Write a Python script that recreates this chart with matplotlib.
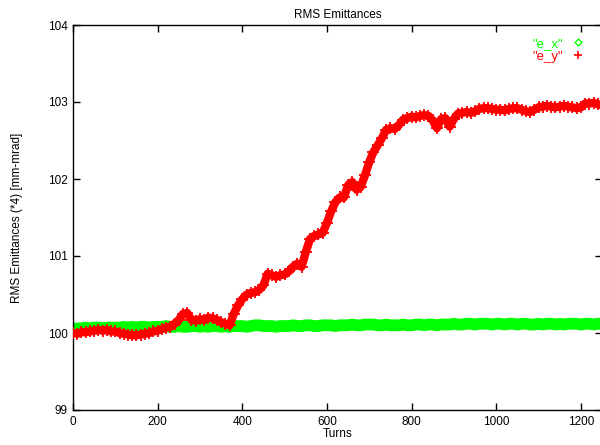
import matplotlib
matplotlib.use("Agg")
import matplotlib.pyplot as plt
from matplotlib.lines import Line2D
import numpy as np

plt.rcParams['font.family'] = ['Liberation Sans', 'DejaVu Sans']

title = "RMS Emittances"
xlabel = "Turns"
ylabel = "RMS Emittances (*4) [mm-mrad]"
labels = ['"e_x"', '"e_y"']
xticks = [0, 200, 400, 600, 800, 1000, 1200]
yticks = [99, 100, 101, 102, 103, 104]

turns = list(range(0, 1251, 10))

e_x = [100.05, 100.06, 100.06, 100.07, 100.06, 100.07, 100.07, 100.06, 100.07, 100.07,
       100.07, 100.07, 100.08, 100.07, 100.08, 100.07, 100.08, 100.08, 100.07, 100.08,
       100.08, 100.08, 100.09, 100.08, 100.08, 100.09, 100.08, 100.08, 100.09, 100.09,
       100.08, 100.09, 100.08, 100.09, 100.09, 100.08, 100.09, 100.08, 100.09, 100.09,
       100.09, 100.08, 100.09, 100.10, 100.10, 100.09, 100.09, 100.09, 100.08, 100.09,
       100.09, 100.09, 100.10, 100.09, 100.09, 100.10, 100.10, 100.09, 100.09, 100.10,
       100.10, 100.10, 100.09, 100.10, 100.10, 100.10, 100.11, 100.10, 100.10, 100.11,
       100.11, 100.11, 100.10, 100.10, 100.11, 100.10, 100.10, 100.10, 100.11, 100.10,
       100.10, 100.11, 100.11, 100.10, 100.11, 100.11, 100.10, 100.11, 100.11, 100.11,
       100.12, 100.11, 100.11, 100.12, 100.12, 100.11, 100.12, 100.12, 100.12, 100.11,
       100.12, 100.12, 100.11, 100.12, 100.12, 100.11, 100.12, 100.12, 100.11, 100.11,
       100.12, 100.11, 100.12, 100.12, 100.11, 100.12, 100.11, 100.12, 100.12, 100.12,
       100.11, 100.12, 100.12, 100.11, 100.12, 100.12]

e_y = [100.00, 99.99, 100.01, 100.01, 100.02, 100.03, 100.04, 100.03, 100.04, 100.02,
       100.02, 100.00, 99.99, 99.98, 99.97, 99.97, 99.98, 99.99, 100.00, 100.02,
       100.03, 100.05, 100.07, 100.08, 100.12, 100.17, 100.25, 100.26, 100.17, 100.16,
       100.18, 100.17, 100.20, 100.19, 100.17, 100.14, 100.12, 100.10, 100.25, 100.36,
       100.44, 100.50, 100.52, 100.53, 100.56, 100.62, 100.77, 100.75, 100.73, 100.75,
       100.76, 100.80, 100.86, 100.90, 100.86, 101.05, 101.22, 101.26, 101.28, 101.30,
       101.43, 101.58, 101.70, 101.76, 101.76, 101.92, 101.96, 101.86, 101.90, 102.05,
       102.22, 102.35, 102.44, 102.53, 102.64, 102.66, 102.65, 102.70, 102.77, 102.79,
       102.81, 102.80, 102.82, 102.83, 102.82, 102.76, 102.66, 102.78, 102.79, 102.68,
       102.78, 102.85, 102.86, 102.87, 102.86, 102.88, 102.91, 102.92, 102.92, 102.91,
       102.90, 102.90, 102.89, 102.91, 102.92, 102.92, 102.90, 102.88, 102.87, 102.90,
       102.93, 102.94, 102.95, 102.94, 102.93, 102.94, 102.95, 102.94, 102.93, 102.92,
       102.93, 102.98, 102.98, 102.99, 102.97, 102.96]

green = '#00ff00'
red = '#ff0000'

fig = plt.figure(figsize=(6.0, 4.45), dpi=100)
ax = fig.add_axes([73/600, 1-410/445, (602-73)/600, (410-25)/445])

ax.plot(turns, e_x, color=green, lw=8.5, solid_capstyle='round', zorder=2)
ax.plot(turns, e_x, ls='none', marker='D', ms=3.5, mfc='none', mec=green, mew=1, zorder=2)
ax.plot(turns, e_y, color=red, lw=6, solid_capstyle='round', zorder=3)
ax.plot(turns, e_y, ls='none', marker='+', ms=8, mec=red, mew=1.3, zorder=3)

ax.set_xlim(0, 1250)
ax.set_ylim(99, 104)
ax.set_xticks(xticks)
ax.set_yticks(yticks)
ax.tick_params(direction='in', length=5, width=1, top=True, right=True, labelsize=8.5, pad=4)
for s in ax.spines.values():
    s.set_linewidth(1)
ax.set_title(title, fontsize=8.5, pad=5)
ax.set_xlabel(xlabel, fontsize=8.5, labelpad=0)
ax.set_ylabel(ylabel, fontsize=8.5, labelpad=18)

handles = [Line2D([], [], ls='none', marker='D', ms=3.5, mfc='none', mec=green, mew=1),
           Line2D([], [], ls='none', marker='+', ms=6, mec=red, mew=1.2)]
leg = ax.legend(handles, labels, loc='upper right', markerfirst=False, frameon=False,
                fontsize=9.5, handlelength=1.0, handletextpad=0.6, labelspacing=0.05,
                bbox_to_anchor=(587/600, 1-35/445), bbox_transform=fig.transFigure,
                borderaxespad=0, borderpad=0.2)
for t, c in zip(leg.get_texts(), [green, red]):
    t.set_color(c)

fig.savefig('out.png', dpi=100)
